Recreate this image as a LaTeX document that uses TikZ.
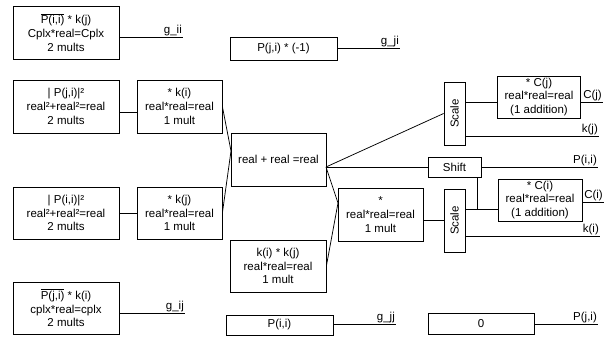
\documentclass[tikz,border=0pt]{standalone}
\usepackage{fontspec}
\usepackage{graphicx}
\setmainfont{Liberation Sans}
\usetikzlibrary{calc}
\begin{document}
\begin{tikzpicture}[x=1pt,y=-1pt,
  box/.style={draw,line width=0.75pt,align=center,inner sep=0pt,font=\fontsize{11.5}{13.7}\selectfont},
  lbl/.style={anchor=south east,inner sep=0.8pt,font=\fontsize{11.5}{13}\selectfont},
  wire/.style={line width=0.75pt}]
\useasboundingbox (0,0) rectangle (613,340);
% left column
\node[box,minimum width=106,minimum height=53] (A) at (66,32.5) {$\overline{\mbox{P(i,i)}}$ * k(j)\\Cplx*real=Cplx\\2 mults};
\node[box,minimum width=106,minimum height=53] (C) at (66,106.5) {| P(j,i)|²\\real²+real²=real\\2 mults};
\node[box,minimum width=106,minimum height=52] (E) at (66,213) {| P(i,i)|²\\real²+real²=real\\2 mults};
\node[box,minimum width=106,minimum height=52] (G) at (66,308) {$\overline{\mbox{P(j,i)}}$ * k(i)\\cplx*real=cplx\\2 mults};
% second column
\node[box,minimum width=85,minimum height=53] (D) at (179.5,106.5) {* k(i)\\real*real=real\\1 mult};
\node[box,minimum width=85,minimum height=52] (F) at (179.5,213) {* k(j)\\real*real=real\\1 mult};
% third column
\node[box,minimum width=107,minimum height=23] (B) at (283.5,48.5) {P(j,i) * (-1)};
\node[box,minimum width=95,minimum height=53] (H) at (278.5,159.5) {real + real =real};
\node[box,minimum width=96,minimum height=52] (I) at (278,266) {k(i) * k(j)\\real*real=real\\1 mult};
\node[box,minimum width=107,minimum height=20] (K) at (279.5,325) {P(i,i)};
% fourth column
\node[box,minimum width=85,minimum height=53] (J) at (380.5,214.5) {*\\real*real=real\\1 mult};
\node[box,minimum width=21,minimum height=63] (S1) at (454.5,113.5) {\rotatebox{90}{Scale}};
\node[box,minimum width=21,minimum height=63] (S2) at (454.5,220.5) {\rotatebox{90}{Scale}};
\node[box,minimum width=53,minimum height=20] (Sh) at (454.5,167) {Shift};
\node[box,minimum width=106,minimum height=21] (L) at (481,323.5) {0};
\node[box,minimum width=83,minimum height=42] (C1) at (539,97) {* C(j)\\real*real=real\\(1 addition)};
\node[box,minimum width=84,minimum height=42] (C2) at (540,200) {* C(i)\\real*real=real\\(1 addition)};
% coordinates for free ends
\coordinate (gii) at (183,37);
\coordinate (gji) at (400,48);
\coordinate (gij) at (185,313);
\coordinate (gjj) at (396,324);
\coordinate (pji) at (598,324);
\coordinate (kj) at (599,136);
\coordinate (ki) at (600,236);
\coordinate (cj) at (603,102);
\coordinate (ci) at (604,202);
\coordinate (pii) at (598,167);
\coordinate (hin) at (231,151);
\coordinate (hout) at (326,167);
\coordinate (jin) at (338,203);
\coordinate (jn) at (477,209);
% connectors
\draw[wire] (A.east |- gii) -- (gii) node[lbl] {g\_ii};
\draw[wire] (B.east |- gji) -- (gji) node[lbl] {g\_ji};
\draw[wire] (G.east |- gij) -- (gij) node[lbl] {g\_ij};
\draw[wire] (K.east |- gjj) -- (gjj) node[lbl] {g\_jj};
\draw[wire] (L.east |- pji) -- (pji) node[lbl] {P(j,i)};
\draw[wire] (C.east |- 0,112) -- (D.west |- 0,112);
\draw[wire] (E.east) -- (F.west);
\draw[wire] (D.east) -- (hin);
\draw[wire] (F.east) -- (hin);
\draw[wire] (hout) -- (S1.west);
\draw[wire] (hout) -- (Sh.west |- hout);
\draw[wire] (hout) -- (jin);
\draw[wire] (I.east) -- (jin);
\draw[wire] (J.east |- S2.west) -- (S2.west);
\draw[wire] (S1.east |- cj) -- (C1.west |- cj);
\draw[wire] (C1.east |- cj) -- (cj) node[lbl] {C(j)};
\draw[wire] (S1.east |- kj) -- (kj) node[lbl] {k(j)};
\draw[wire] (Sh.east |- pii) -- (pii) node[lbl] {P(i,i)};
\draw[wire] (Sh.south -| jn) -- (jn);
\draw[wire] (S2.east |- jn) -- (C2.west |- jn);
\draw[wire] (C2.east |- ci) -- (ci) node[lbl] {C(i)};
\draw[wire] (S2.east |- ki) -- (ki) node[lbl] {k(i)};
\end{tikzpicture}
\end{document}
